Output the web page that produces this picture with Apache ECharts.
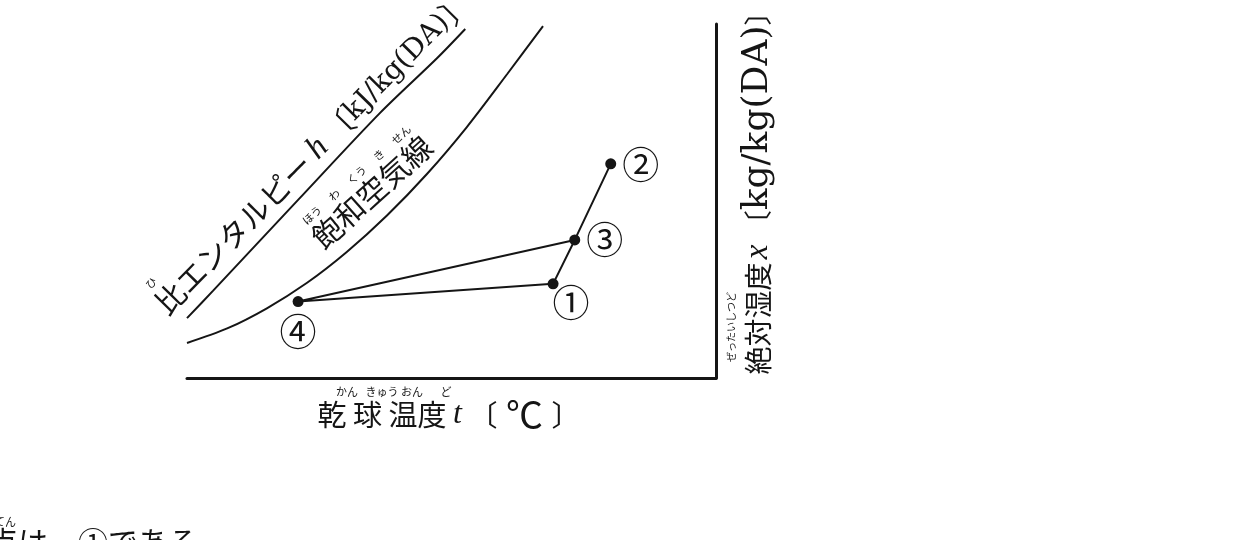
<!DOCTYPE html>
<html><head><meta charset="utf-8">
<script src="https://cdn.jsdelivr.net/npm/echarts/dist/echarts.min.js"></script>
<style>html,body{margin:0;padding:0;background:#fff}#c{width:1246px;height:540px}</style>
</head><body><div id="c"></div>
<script>
// ---- data (schematic units 0–100 on both axes) ----
const enthalpyX = [0, 4.9, 21.0, 36.5, 47.3, 52.6];
const enthalpyY = [16.9, 24.6, 50.3, 74.9, 90.4, 98.6];
const saturationX = [0, 7.6, 15.1, 22.7, 30.2, 37.8, 45.4, 52.9, 60.5, 67.3];
const saturationY = [9.9, 14.0, 19.7, 26.9, 35.6, 45.9, 57.7, 70.9, 85.8, 99.4];
const stateNames = ['①', '②', '③', '④'];
const stateX = [69.2, 80.1, 73.3, 21.0];
const stateY = [26.6, 60.5, 39.0, 21.6];
const processPath = ['②', '③', '④', '①', '③'];
const xTitle = ['乾', '球', '温度', 't', '〔', '℃', '〕'];
const xRuby = ['かん', 'きゅう', 'おん', 'ど'];
const yTitle = ['絶対湿度', 'x', '〔', 'kg/kg(DA)', '〕'];
const yRuby = 'ぜったいしつど';
const hTitle = ['比エンタルピー', 'h', '〔', 'kJ/kg(DA)', '〕'];
const hRuby = 'ひ';
const satTitle = '飽和空気線';
const satRuby = ['ほう', 'わ', 'くう', 'き', 'せん'];
const noteText = '点は、①である。';
const noteRuby = 'てん';

// ---- styling ----
const ink = '#151515';
const JP = "'Noto Sans CJK JP', sans-serif";
const SERIF = "'DejaVu Serif', 'Liberation Serif', serif";
const ITAL = "'Liberation Serif', serif";
const labelOffsets = { '①': [18, 19], '②': [30, 1], '③': [30, 0], '④': [0, 30] };

const chart = echarts.init(document.getElementById('c'), null, { renderer: 'canvas' });

const jp = (size) => ({ fontFamily: JP, fontSize: size, fill: ink });
const serif = (size) => ({ fontFamily: SERIF, fontSize: size, fill: ink });
const ital = (size) => ({ fontFamily: ITAL, fontSize: size, fill: ink, fontStyle: 'italic' });
const ruby = (text, x, y, rot, size) => ({ type: 'text', x, y, rotation: rot || 0,
  style: { text, fontFamily: JP, fontSize: size || 11, fill: ink, align: 'center', verticalAlign: 'middle' } });

const graphics = [];
// enthalpy label
const hRot = 45.5 * Math.PI / 180;
graphics.push({
  type: 'text', x: 313, y: 153, rotation: hRot,
  style: {
    text: `{j|${hTitle[0]}}{s| }{i|${hTitle[1]}}{s| }{j|${hTitle[2]}}{l|${hTitle[3]}}{j|${hTitle[4]}}`,
    align: 'center', verticalAlign: 'middle',
    rich: { j: jp(30), s: jp(30), i: ital(33), l: serif(28) }
  }
});
graphics.push(ruby(hRuby, 151, 283, hRot));

// saturation label with ruby
const sRot = 42 * Math.PI / 180, sPitch = 30, sC = [372, 192];
graphics.push({ type: 'text', x: sC[0], y: sC[1], rotation: sRot,
  style: { text: satTitle, fontFamily: JP, fontSize: 30, fill: ink, align: 'center', verticalAlign: 'middle' } });
satRuby.forEach((r, i) => {
  const k = (i - 2) * sPitch;
  const cx = sC[0] + k * Math.cos(sRot) - 23 * Math.sin(sRot);
  const cy = sC[1] - k * Math.sin(sRot) - 23 * Math.cos(sRot);
  graphics.push(ruby(r, cx, cy, sRot));
});

// x-axis title
const xf = 29;
graphics.push({ type: 'text', x: 449, y: 415,
  style: { text: `{j|${xTitle[0]}}{s| }{j|${xTitle[1]}}{s| }{j|${xTitle[2]}}{s| }{i|${xTitle[3]}}{s| }{j|${xTitle[4]}}{c|${xTitle[5]}}{j|${xTitle[6]}}`,
    align: 'center', verticalAlign: 'middle',
    rich: { j: jp(xf), s: jp(xf), i: ital(32), c: Object.assign(jp(37), { width: 54, align: 'center' }) } } });
const xRubyPos = [347, 382, 412, 446];
xRuby.forEach((r, i) => graphics.push(ruby(r, xRubyPos[i], 392)));

// y-axis title (vertical, reading upward)
graphics.push({ type: 'text', x: 758, y: 186, rotation: Math.PI / 2,
  style: { text: `{j|${yTitle[0]}}{t| }{i|${yTitle[1]}}{s| }{j|${yTitle[2]}}{l|${yTitle[3]}}{j|${yTitle[4]}}`,
    align: 'center', verticalAlign: 'middle',
    rich: { j: jp(28), s: jp(28), t: jp(14), i: ital(33), l: serif(36) } } });
graphics.push(ruby(yRuby, 731, 327, Math.PI / 2, 10));

// cut-off note at bottom
graphics.push({ type: 'text', x: -12, y: 527,
  style: { text: noteText, fontFamily: JP, fontSize: 30, fill: ink, align: 'left', verticalAlign: 'top' } });
graphics.push(ruby(noteRuby, 5, 522));

const axisCommon = {
  type: 'value', min: 0, max: 100,
  axisLine: { show: true, onZero: false, lineStyle: { color: ink, width: 3 } },
  axisTick: { show: false }, axisLabel: { show: false }, splitLine: { show: false }
};

chart.setOption({
  animation: false,
  backgroundColor: '#fff',
  grid: { left: 187, right: 530, top: 24, bottom: 162 },
  xAxis: Object.assign({}, axisCommon),
  yAxis: Object.assign({ position: 'right' }, axisCommon),
  series: [
    { type: 'line', data: enthalpyX.map((x, i) => [x, enthalpyY[i]]), smooth: 0.3, symbol: 'none', clip: false,
      lineStyle: { color: ink, width: 2 } },
    { type: 'line', data: saturationX.map((x, i) => [x, saturationY[i]]), smooth: 0.3, symbol: 'none', clip: false,
      lineStyle: { color: ink, width: 2 } },
    { type: 'line', data: processPath.map(n => { const i = stateNames.indexOf(n); return [stateX[i], stateY[i]]; }),
      symbol: 'none', lineStyle: { color: ink, width: 2 } },
    { type: 'scatter', symbol: 'circle', symbolSize: 11, itemStyle: { color: ink, opacity: 1 },
      data: stateNames.map((n, i) => ({ name: n, value: [stateX[i], stateY[i]],
        label: { show: true, position: 'inside', offset: labelOffsets[n], formatter: '{b}',
          fontFamily: JP, fontSize: 37, color: ink } })) }
  ],
  graphic: graphics
});
</script></body></html>
